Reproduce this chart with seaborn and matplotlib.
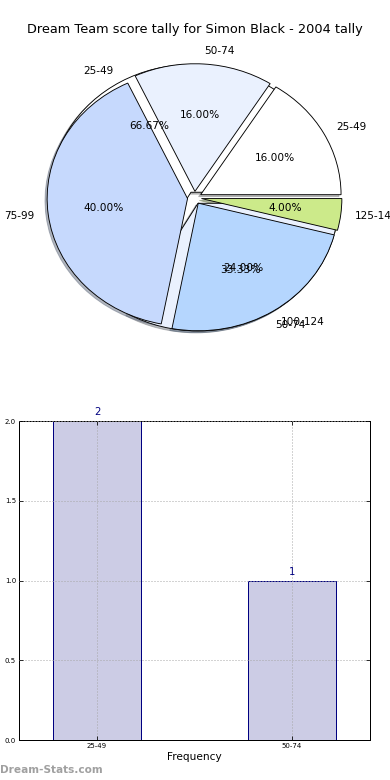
import matplotlib
matplotlib.use("Agg")
import matplotlib.pyplot as plt
import seaborn as sns
import pandas as pd

title = "Dream Team score tally for Simon Black - 2004 tally"

# Pie A: score tally ranges
pie_labels = ["25-49", "50-74", "75-99", "100-124", "125-149"]
pie_values = [16, 16, 40, 24, 4]
pie_colors = ["#ffffff", "#eaf1fe", "#c6d9fd", "#b5d6fe", "#ccea8a"]

# Pie B / bar chart: frequency
freq_labels = ["25-49", "50-74"]
freq_values = [2, 1]
freq_colors = ["#ffffff", "#eaf1fe"]

dpi = 72
fig = plt.figure(figsize=(390 / dpi, 780 / dpi), dpi=dpi)
plt.rcParams['font.family'] = ['DejaVu Sans']
fig.subplots_adjust(left=19 / 390, right=370 / 390, bottom=0.051, top=0.951, hspace=0.2)
ax1 = fig.add_subplot(2, 1, 1)
ax2 = fig.add_subplot(2, 1, 2)

wp = dict(edgecolor="black", linewidth=0.9)
tp = dict(fontsize=10.5)
ax1.pie(freq_values, labels=freq_labels, colors=freq_colors, explode=[0.05] * len(freq_values),
        autopct="%1.2f%%", shadow=dict(ox=-0.015, oy=-0.015, shade=0.5), wedgeprops=wp, textprops=tp)
ax1.pie(pie_values, labels=pie_labels, colors=pie_colors, explode=[0.05] * len(pie_values),
        autopct="%1.2f%%", shadow=dict(ox=-0.015, oy=-0.015, shade=0.5), wedgeprops=wp, textprops=tp)
ax1.set_aspect("auto")
ax1.set_xlim(-1.25, 1.25)
ax1.set_ylim(-1.25, 1.25)
ax1.set_title(title, fontsize=12.9, pad=5)
for t in ax1.texts:
    t.set_clip_on(False)

df = pd.DataFrame({"range": freq_labels, "count": freq_values})
sns.barplot(data=df, x="range", y="count", ax=ax2, color=(0, 0, 0.5, 0.2),
            saturation=1, edgecolor="navy", linewidth=1, width=0.45, errorbar=None)
for p in ax2.patches:
    p.set_facecolor((0, 0, 0.5, 0.2))
    p.set_edgecolor("navy")
for i, v in enumerate(freq_values):
    ax2.text(i, v + 0.025, str(v), ha="center", va="bottom", color="navy", fontsize=10, clip_on=False)
ax2.set_xlim(-0.4, 1.4)
ax2.set_ylim(0, 2)
ax2.set_yticks([0.0, 0.5, 1.0, 1.5, 2.0])
ax2.set_yticklabels(["0.0", "0.5", "1.0", "1.5", "2.0"])
ax2.set_xlabel("Frequency", fontsize=10.5, labelpad=3)
ax2.set_ylabel("")
ax2.grid(True, linestyle=(0, (1, 2)), color="#a8a8a8", linewidth=1)
ax2.set_axisbelow(False)
ax2.tick_params(axis="both", direction="in", top=True, right=True, labelsize=7, length=4, pad=3)
for s in ax2.spines.values():
    s.set_linewidth(1)
    s.set_color("black")

fig.text(0.0, 1 - 770 / 780, "Dream-Stats.com", color="#a0a0a0", fontsize=10.5,
         fontweight="bold", ha="left", va="center")

fig.savefig("out.png", dpi=dpi)
